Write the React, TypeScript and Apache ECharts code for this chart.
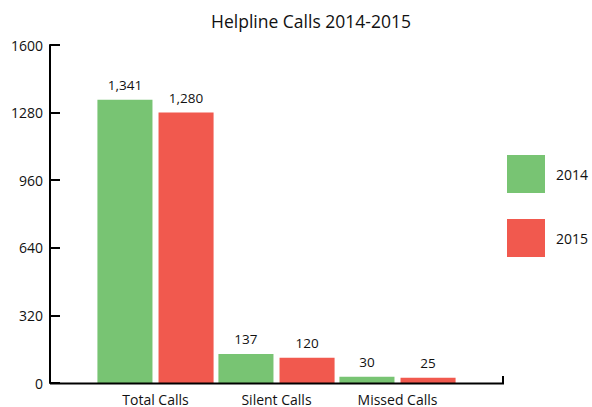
import React, { useEffect, useRef } from "react";
import * as echarts from "echarts";

const categories = ["Total Calls", "Silent Calls", "Missed Calls"];
const series2014 = [1341, 137, 30];
const series2015 = [1280, 120, 25];
const seriesNames = ["2014", "2015"];
const yTicks = { min: 0, max: 1600, interval: 320 };

const FONT = "'Open Sans', 'Noto Sans', sans-serif";
const GREEN = "#78C473";
const RED = "#F1594E";

export default function App() {
  const ref = useRef<HTMLDivElement>(null);
  useEffect(() => {
    document.body.style.margin = "0";
    const chart = echarts.init(ref.current!, null, { renderer: "svg" });
    const gridLeft = 95;
    const gridRight = 592 - 458;
    const gridTop = 45;
    const gridBottom = 407 - 383;
    const fmt = (p: any) => Number(p.value).toLocaleString("en-US");
    chart.setOption({
      animation: false,
      textStyle: { fontFamily: FONT },
      title: {
        text: "Helpline Calls 2014-2015",
        left: 306,
        textAlign: "center",
        top: 7,
        textStyle: { fontFamily: FONT, fontSize: 17.5, fontWeight: "normal", color: "#111" },
      },
      legend: {
        orient: "vertical",
        left: 502,
        top: 150,
        width: 90,
        itemWidth: 38,
        itemHeight: 38,
        itemGap: 26,
        icon: "rect",
        data: seriesNames,
        textStyle: { fontFamily: FONT, fontSize: 14, color: "#111", padding: [0, 0, 0, 6] },
      },
      grid: { left: gridLeft, right: gridRight, top: gridTop, bottom: gridBottom, containLabel: false },
      xAxis: {
        type: "category",
        data: categories,
        axisLine: { show: false },
        axisTick: { show: false },
        axisLabel: { fontFamily: FONT, fontSize: 14, lineHeight: 14, color: "#111", margin: 9 },
      },
      yAxis: {
        type: "value",
        min: yTicks.min,
        max: yTicks.max,
        interval: yTicks.interval,
        offset: gridLeft - 50,
        splitLine: { show: false },
        axisLine: { show: true, lineStyle: { color: "#000", width: 2 } },
        axisTick: { show: true, inside: true, length: 10, lineStyle: { color: "#000", width: 2 } },
        axisLabel: { fontFamily: FONT, fontSize: 14, color: "#111", margin: 7, formatter: (v: number) => String(v) },
      },
      series: [
        {
          name: seriesNames[0],
          type: "bar",
          data: series2014,
          itemStyle: { color: GREEN },
          barGap: "11%",
          barCategoryGap: "4%",
          label: { show: true, position: "top", distance: 8, formatter: fmt, fontFamily: FONT, fontSize: 13.5, color: "#111" },
        },
        {
          name: seriesNames[1],
          type: "bar",
          data: series2015,
          itemStyle: { color: RED },
          barGap: "11%",
          barCategoryGap: "4%",
          label: { show: true, position: "top", distance: 8, formatter: fmt, fontFamily: FONT, fontSize: 13.5, color: "#111" },
        },
      ],
      graphic: [
        {
          type: "polyline",
          shape: { points: [[50, 383.5], [503, 383.5], [503, 376]] },
          style: { stroke: "#000", lineWidth: 2, fill: null },
          z: 10,
        },
      ],
    });
    return () => chart.dispose();
  }, []);
  return <div ref={ref} style={{ width: 592, height: 407, position: "absolute", left: 0, top: 0 }} />;
}
